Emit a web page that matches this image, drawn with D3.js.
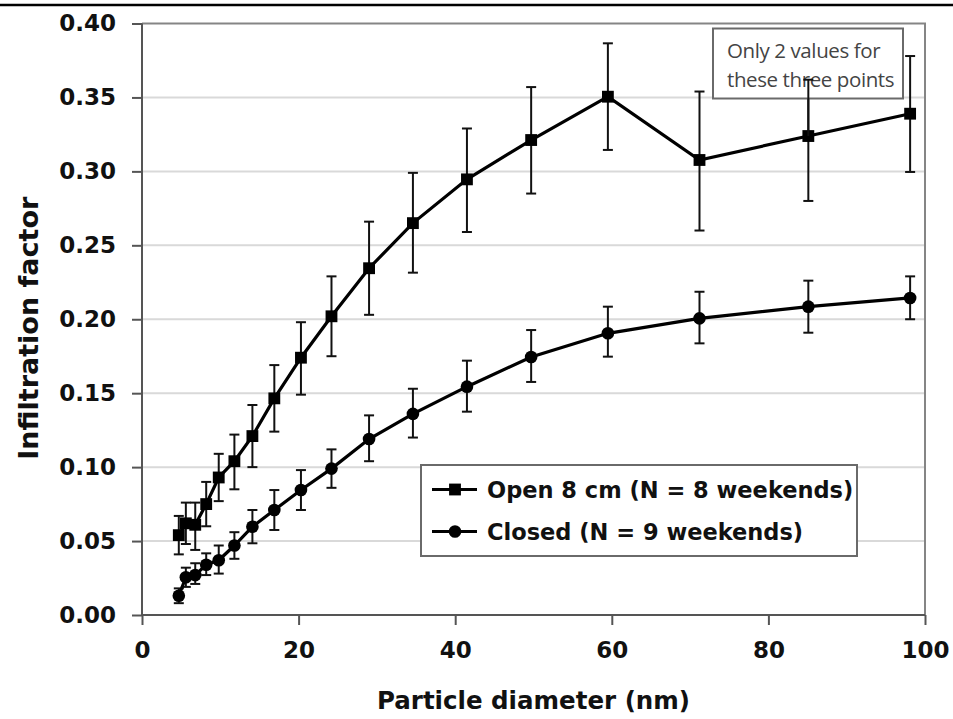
<!DOCTYPE html>
<html>
<head>
<meta charset="utf-8">
<script src="https://cdn.jsdelivr.net/npm/d3@7/dist/d3.min.js"></script>
<style>
  html, body { margin: 0; padding: 0; background: #fff; }
  svg { display: block; }
</style>
</head>
<body>
<svg id="chart" width="953" height="719"></svg>
<script>
// ---- data ----
const diameters = [4.7, 5.6, 6.8, 8.2, 9.8, 11.8, 14.1, 16.9, 20.3, 24.2, 29.0, 34.6, 41.5, 49.7, 59.5, 71.2, 85.1, 98.1];
const openMean  = [0.054, 0.062, 0.061, 0.075, 0.093, 0.104, 0.121, 0.1465, 0.174, 0.202, 0.2345, 0.265, 0.2946, 0.3212, 0.3505, 0.3077, 0.3239, 0.339];
const openLow   = [0.041, 0.048, 0.044, 0.060, 0.077, 0.085, 0.100, 0.124, 0.149, 0.175, 0.203, 0.2315, 0.259, 0.285, 0.3145, 0.260, 0.280, 0.2996];
const openHigh  = [0.067, 0.076, 0.076, 0.090, 0.109, 0.122, 0.142, 0.169, 0.198, 0.229, 0.266, 0.299, 0.329, 0.357, 0.3866, 0.354, 0.362, 0.378];
const closedMean = [0.013, 0.0255, 0.027, 0.034, 0.037, 0.047, 0.0597, 0.071, 0.0845, 0.099, 0.119, 0.136, 0.1544, 0.1745, 0.1905, 0.2006, 0.2085, 0.2144];
const closedLow  = [0.008, 0.019, 0.021, 0.027, 0.028, 0.038, 0.0485, 0.0575, 0.071, 0.086, 0.104, 0.120, 0.1375, 0.1576, 0.1747, 0.1837, 0.1909, 0.200];
const closedHigh = [0.018, 0.032, 0.035, 0.0417, 0.047, 0.056, 0.071, 0.0845, 0.098, 0.112, 0.135, 0.153, 0.172, 0.1927, 0.2085, 0.2186, 0.2261, 0.229];
const xTicks = [0, 20, 40, 60, 80, 100];
const yTicks = [0.00, 0.05, 0.10, 0.15, 0.20, 0.25, 0.30, 0.35, 0.40];
const seriesNames = ["Open 8 cm (N = 8 weekends)", "Closed (N = 9 weekends)"];
const noteLines = ["Only 2 values for", "these three points"];
const xTitle = "Particle diameter (nm)";
const yTitle = "Infiltration factor";

// ---- layout ----
const svg = d3.select("#chart");
const W = 953, H = 719;
const plot = { left: 142, right: 925, top: 23.5, bottom: 615 };
const x = d3.scaleLinear().domain([0, 100]).range([plot.left, plot.right]);
const y = d3.scaleLinear().domain([0, 0.40]).range([plot.bottom, plot.top]);
const font = "'DejaVu Sans', 'Liberation Sans', Arial, sans-serif";

// top rule
svg.append("line").attr("x1", 0).attr("x2", W).attr("y1", 5).attr("y2", 5)
  .attr("stroke", "#000").attr("stroke-width", 2.5);

// gridlines
svg.append("g").selectAll("line").data(yTicks.filter(t => t > 0 && t < 0.4)).join("line")
  .attr("x1", plot.left).attr("x2", plot.right)
  .attr("y1", d => y(d)).attr("y2", d => y(d))
  .attr("stroke", "#d9d9d9").attr("stroke-width", 2);

// plot border top & right
svg.append("path")
  .attr("d", `M${plot.left},${y(0.4)}H${plot.right}V${plot.bottom}`)
  .attr("fill", "none").attr("stroke", "#858585").attr("stroke-width", 2);

// axes
const yAxis = d3.axisLeft(y).tickValues(yTicks).tickFormat(d3.format(".2f")).tickSize(10).tickPadding(16);
const xAxis = d3.axisBottom(x).tickValues(xTicks).tickFormat(d3.format("d")).tickSize(10).tickPadding(17);
const gy = svg.append("g").attr("transform", `translate(${plot.left},0)`).call(yAxis);
const gx = svg.append("g").attr("transform", `translate(0,${plot.bottom})`).call(xAxis);
[gx, gy].forEach(g => {
  g.select(".domain").attr("stroke", "#555").attr("stroke-width", 2);
  g.selectAll(".tick line").attr("stroke", "#555").attr("stroke-width", 2);
  g.selectAll(".tick text").attr("fill", "#111").attr("font-family", font)
    .attr("font-weight", "bold").attr("font-size", 23);
});
gy.select(".domain").attr("d", `M0,${plot.top}V${plot.bottom}`);
gx.select(".domain").attr("d", `M${plot.left},0H${plot.right}`);

// axis titles
svg.append("text").attr("x", (plot.left + plot.right) / 2).attr("y", 709)
  .attr("text-anchor", "middle").attr("font-family", font).attr("font-weight", "bold")
  .attr("font-size", 24.5).attr("fill", "#111").text(xTitle);
svg.append("text").attr("transform", `translate(38,${(plot.top + plot.bottom) / 2 + 9}) rotate(-90)`)
  .attr("text-anchor", "middle").attr("font-family", font).attr("font-weight", "bold")
  .attr("font-size", 27).attr("fill", "#111").text(yTitle);

// series
const series = [
  { name: seriesNames[0], mean: openMean, low: openLow, high: openHigh, symbol: d3.symbolSquare, size: 140 },
  { name: seriesNames[1], mean: closedMean, low: closedLow, high: closedHigh, symbol: d3.symbolCircle, size: 125 }
];

const line = d3.line().x(d => x(d.d)).y(d => y(d.v));
series.forEach(s => {
  const pts = diameters.map((d, i) => ({ d, v: s.mean[i], lo: s.low[i], hi: s.high[i] }));
  const g = svg.append("g");
  // error bars
  const eb = g.append("g").selectAll("g").data(pts).join("g");
  eb.append("line").attr("x1", d => x(d.d)).attr("x2", d => x(d.d))
    .attr("y1", d => y(d.lo)).attr("y2", d => y(d.hi)).attr("stroke", "#111").attr("stroke-width", 2);
  eb.append("line").attr("x1", d => x(d.d) - 5).attr("x2", d => x(d.d) + 5)
    .attr("y1", d => y(d.hi)).attr("y2", d => y(d.hi)).attr("stroke", "#111").attr("stroke-width", 2);
  eb.append("line").attr("x1", d => x(d.d) - 5).attr("x2", d => x(d.d) + 5)
    .attr("y1", d => y(d.lo)).attr("y2", d => y(d.lo)).attr("stroke", "#111").attr("stroke-width", 2);
  g.append("path").datum(pts).attr("d", line).attr("fill", "none")
    .attr("stroke", "#000").attr("stroke-width", 3.2);
  g.selectAll("path.m").data(pts).join("path").attr("class", "m")
    .attr("transform", d => `translate(${x(d.d)},${y(d.v)})`)
    .attr("d", d3.symbol().type(s.symbol).size(s.size)).attr("fill", "#000");
});

// annotation box
const note = svg.append("g");
note.append("rect").attr("x", 713).attr("y", 28.5).attr("width", 190).attr("height", 70)
  .attr("fill", "#fff").attr("stroke", "#6a6a6a").attr("stroke-width", 2);
note.selectAll("text").data(noteLines).join("text")
  .attr("x", 727).attr("y", (d, i) => 57.5 + i * 29).attr("text-anchor", "start")
  .attr("font-family", "'Open Sans', 'DejaVu Sans', sans-serif").attr("font-size", 20.5)
  .attr("letter-spacing", -0.4)
  .attr("fill", "#444").text(d => d);
// the error bar that crosses the note stays visible through it
{
  const i = 16;
  svg.append("line").attr("x1", x(diameters[i])).attr("x2", x(diameters[i]))
    .attr("y1", y(openHigh[i])).attr("y2", y(openMean[i])).attr("stroke", "#111").attr("stroke-width", 2);
  svg.append("line").attr("x1", x(diameters[i]) - 5).attr("x2", x(diameters[i]) + 5)
    .attr("y1", y(openHigh[i])).attr("y2", y(openHigh[i])).attr("stroke", "#111").attr("stroke-width", 2);
}

// legend
const lg = svg.append("g");
lg.append("rect").attr("x", 421).attr("y", 465).attr("width", 436).attr("height", 91)
  .attr("fill", "#fff").attr("stroke", "#6a6a6a").attr("stroke-width", 2);
const rows = lg.selectAll("g").data(series).join("g")
  .attr("transform", (d, i) => `translate(0,${489.5 + i * 42})`);
rows.append("line").attr("x1", 432).attr("x2", 477).attr("y1", 0).attr("y2", 0)
  .attr("stroke", "#000").attr("stroke-width", 3.2);
rows.append("path").attr("transform", "translate(455,0)")
  .attr("d", d => d3.symbol().type(d.symbol).size(d.size)()).attr("fill", "#000");
rows.append("text").attr("x", 487).attr("y", 0).attr("dy", "0.36em")
  .attr("font-family", font).attr("font-weight", "bold").attr("font-size", 22.5)
  .attr("fill", "#111").text(d => d.name);
</script>
</body>
</html>
